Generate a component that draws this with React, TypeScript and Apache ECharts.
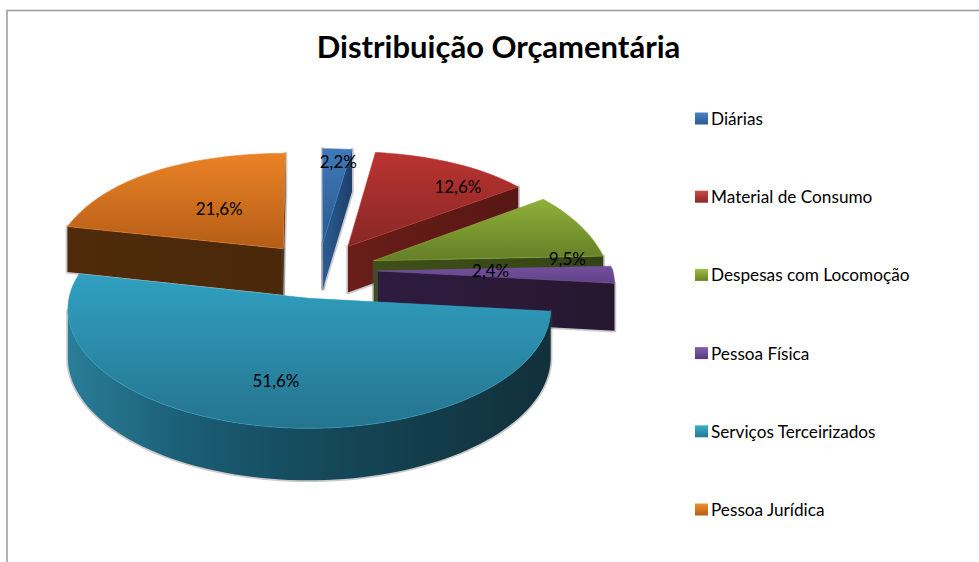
import React, { useEffect, useRef } from "react";
import * as echarts from "echarts";

const title = "Distribuição Orçamentária";
const categories = ["Diárias", "Material de Consumo", "Despesas com Locomoção", "Pessoa Física", "Serviços Terceirizados", "Pessoa Jurídica"];
const values = [2.2, 12.6, 9.5, 2.4, 51.6, 21.6];

const topColors = [["#3f79b9", "#2a5a90"], ["#bb3330", "#872826"], ["#8fb038", "#647f27"], ["#74509b", "#61418a"], ["#30a0c0", "#25748f"], ["#ea8226", "#b45d17"]];
const wallColors = [["#2b5c92", "#1d3f68"], ["#6a1d18", "#571714"], ["#3f5019", "#344315"], ["#2e1c40", "#26172f"], ["#2a7d98", "#1a5d74", "#154a5c", "#133c4a", "#11303a"], ["#4f2b0b", "#4a280a"]];
const legendColors = [["#4a84c4", "#2a5a90"], ["#d04a46", "#8a2826"], ["#9fc040", "#668227"], ["#8460ab", "#56397a"], ["#38b0d0", "#25748f"], ["#f09030", "#b45d17"]];
const drawOrder = [5, 0, 1, 2, 3, 4];

// label placement: radius fraction inside the slice and angle shift from the slice's mid angle
const labelRadius = [0.85, 0.8, 0.84, 0.48, 0.665, 0.49];
const labelShift = [1, 10, 18, -2, 2, 1];

const CX = 319, CY = 270, EXPLODE = 0.25;
const rad = (d: number) => (d * Math.PI) / 180;
const xScale = (w: number) => (w < 0 ? 235 - 22 * w : 235 - 40 * w + 18 * w * w);
const project = (wx: number, wy: number) => [CX + wx * xScale(wy), CY - (112 * wy - 12 * wy * wy)];
const depth = (wy: number) => 47 - 4 * wy;

const total = values.reduce((a, b) => a + b, 0);
const spans = values.map((_, i) => {
  const before = values.slice(0, i).reduce((a, b) => a + b, 0);
  return [(before / total) * 360, ((before + values[i]) / total) * 360];
});

const grad = (horizontal: boolean, colors: string[]) =>
  new echarts.graphic.LinearGradient(0, 0, horizontal ? 1 : 0, horizontal ? 0 : 1,
    colors.map((color, k) => ({ offset: k / (colors.length - 1), color })));

const halo = (points: number[][]) => ({
  type: "polygon",
  shape: { points },
  style: { fill: "none", stroke: "rgba(80,80,90,0.3)", lineWidth: 3.5, lineJoin: "round" },
});

function renderSlice(i: number) {
  const [t0, t1] = spans[i];
  const mid = rad((t0 + t1) / 2);
  const ex = EXPLODE * Math.sin(mid), ey = EXPLODE * Math.cos(mid);
  const world = (t: number, r = 1) => [ex + r * Math.sin(rad(t)), ey + r * Math.cos(rad(t))];
  const drop = (w: number[]) => {
    const p = project(w[0], w[1]);
    return [p[0], p[1] + depth(w[1])];
  };
  const arcW: number[][] = [];
  const n = Math.max(4, Math.ceil((t1 - t0) / 2));
  for (let k = 0; k <= n; k++) arcW.push(world(t0 + ((t1 - t0) * k) / n));
  const apexW = [ex, ey];
  const apex = project(apexW[0], apexW[1]);
  const arc = arcW.map((w) => project(w[0], w[1]));
  const children: any[] = [];
  const wall = (fromW: number[], toW: number[]) => {
    const a = project(fromW[0], fromW[1]), b = project(toW[0], toW[1]);
    if (b[0] >= a[0]) return;
    const points = [a, b, drop(toW), drop(fromW)];
    children.push(halo(points), {
      type: "polygon",
      shape: { points },
      style: { fill: grad(true, wallColors[i].slice(0, 2)) },
    });
  };
  wall(apexW, arcW[0]);
  wall(arcW[n], apexW);
  const run: number[][] = [];
  for (let k = 0; k < n; k++) {
    if (arc[k + 1][0] < arc[k][0]) {
      if (!run.length) run.push(arcW[k]);
      run.push(arcW[k + 1]);
    }
  }
  if (run.length > 1) {
    const upper = run.map((w) => project(w[0], w[1]));
    const lower = run.map(drop).reverse();
    const points = [...upper, ...lower];
    children.push(halo(points), {
      type: "polygon",
      shape: { points },
      style: { fill: grad(true, wallColors[i]) },
    });
  }
  children.push({
    type: "polygon",
    shape: { points: [apex, ...arc] },
    style: { fill: grad(false, topColors[i]), stroke: topColors[i][0], lineWidth: 0.6, lineJoin: "round" },
  });
  const lw = world((t0 + t1) / 2 + labelShift[i], labelRadius[i]);
  const lp = project(lw[0], lw[1]);
  children.push({
    type: "text",
    x: lp[0],
    y: lp[1],
    style: {
      text: values[i].toFixed(1).replace(".", ",") + "%",
      fill: "#000",
      font: "17px Lato, sans-serif",
      align: "center",
      verticalAlign: "middle",
    },
  });
  return { type: "group", children };
}

export default function App() {
  const ref = useRef<HTMLDivElement>(null);
  useEffect(() => {
    document.body.style.margin = "0";
    const chart = echarts.init(ref.current!, undefined, { renderer: "svg" });
    chart.setOption({
      animation: false,
      backgroundColor: "#fff",
      title: {
        text: title,
        left: 493.5,
        top: 25,
        textAlign: "center",
        textStyle: { fontFamily: "Lato, sans-serif", fontWeight: "bold", fontSize: 31, color: "#000" },
      },
      legend: {
        orient: "vertical",
        left: 695,
        top: 110,
        padding: 0,
        itemWidth: 13,
        itemHeight: 12,
        itemGap: 61.2,
        icon: "rect",
        textStyle: { fontFamily: "Lato, sans-serif", fontSize: 17.2, color: "#000", padding: [0, 0, 0, -2] },
        selectedMode: false,
        data: categories.map((name, i) => ({ name, itemStyle: { color: grad(false, legendColors[i]) } })),
      },
      graphic: [
        {
          type: "polyline",
          silent: true,
          shape: { points: [[7, 562], [7, 10.5], [979, 10.5]] },
          style: { fill: "none", stroke: "#9a9a9a", lineWidth: 1.5 },
        },
      ],
      series: drawOrder.map((i) => ({
        type: "custom",
        name: categories[i],
        coordinateSystem: "none",
        silent: true,
        itemStyle: { color: topColors[i][0] },
        data: [[values[i]]],
        renderItem: () => renderSlice(i),
      })),
    });
    return () => chart.dispose();
  }, []);
  return <div ref={ref} style={{ width: 979, height: 562, display: "block" }} />;
}
